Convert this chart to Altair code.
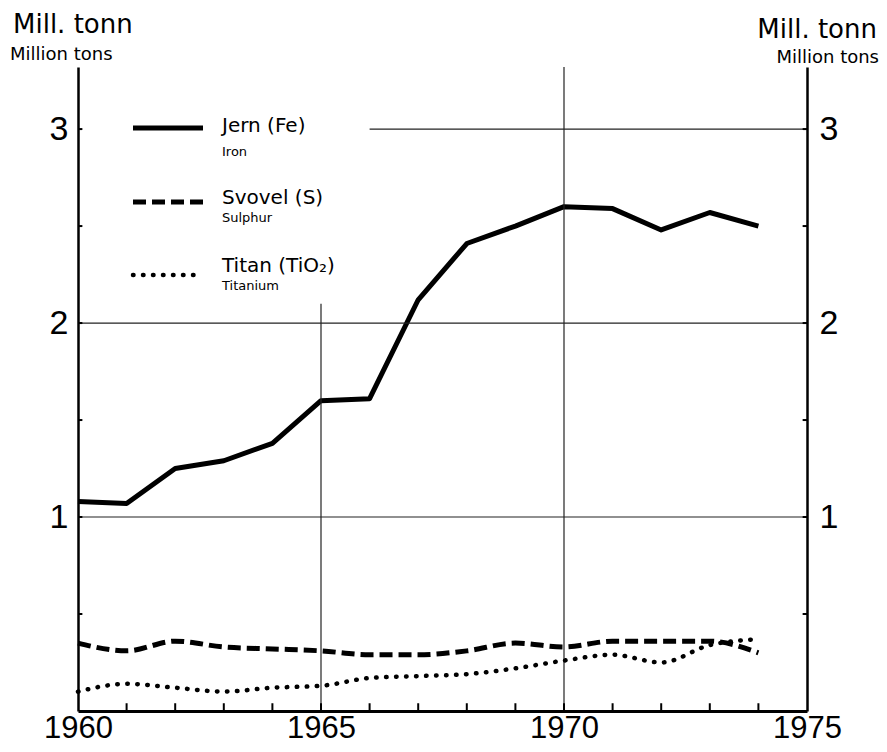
import altair as alt
import pandas as pd

# ---- data ----
years = list(range(1960, 1975))
iron = [1.08, 1.07, 1.25, 1.29, 1.38, 1.60, 1.61, 2.12, 2.41, 2.50, 2.60, 2.59, 2.48, 2.57, 2.50]
sulphur = [0.35, 0.31, 0.36, 0.33, 0.32, 0.31, 0.29, 0.29, 0.31, 0.35, 0.33, 0.36, 0.36, 0.36, 0.30]
titanium = [0.10, 0.14, 0.12, 0.10, 0.12, 0.13, 0.17, 0.18, 0.19, 0.22, 0.26, 0.29, 0.25, 0.34, 0.37]

x_ticks = [1960, 1965, 1970, 1975]
y_ticks = [1, 2, 3]
minor_years = list(range(1961, 1975))
minor_y = [0.5, 1.0, 1.5, 2.0, 2.5, 3.0]

hgrid_y = [1, 2, 3]
hgrid_x0 = [1960, 1960, 1966]
hgrid_x1 = [1975, 1975, 1975]
vgrid_x = [1965, 1970]
vgrid_y0 = [0, 0]
vgrid_y1 = [2.1, 3.32]

X_DOM = [1960, 1975]
Y_DOM = [0, 3.32]
W, H = 729, 644
FONT = "DejaVu Sans"
NUMFONT = "Liberation Sans"

df = pd.DataFrame({"year": years, "iron": iron, "sulphur": sulphur, "titanium": titanium})
hgrid = pd.DataFrame({"y": hgrid_y, "x0": hgrid_x0, "x1": hgrid_x1})
vgrid = pd.DataFrame({"x": vgrid_x, "y0": vgrid_y0, "y1": vgrid_y1})
xt = pd.DataFrame({"x": minor_years, "y0": [0] * len(minor_years), "y1": [0.04] * len(minor_years)})
ytl = pd.DataFrame({"y": minor_y, "x0": [1960] * len(minor_y), "x1": [1960.09] * len(minor_y)})
ytr = pd.DataFrame({"y": minor_y, "x0": [1974.91] * len(minor_y), "x1": [1975] * len(minor_y)})
one = pd.DataFrame({"a": [0]})

xscale = alt.Scale(domain=X_DOM, nice=False, zero=False)
yscale = alt.Scale(domain=Y_DOM, nice=False, zero=False)
xaxis = alt.Axis(values=x_ticks, format="d", labelFontSize=31, labelFont=NUMFONT,
                 ticks=False, grid=False, domainWidth=3, domainColor="black",
                 labelColor="black", labelPadding=2, labelFlush=False,
                 labelOverlap=False, title=None)
yaxis_left = alt.Axis(orient="left", values=y_ticks, labelFontSize=34, labelFont=NUMFONT,
                      ticks=False, grid=False, domainWidth=2.5, domainColor="black",
                      labelColor="black", labelPadding=10, title=None)
yaxis_right = alt.Axis(orient="right", values=y_ticks, labelFontSize=34, labelFont=NUMFONT,
                       ticks=False, grid=False, domainWidth=2.5, domainColor="black",
                       labelColor="black", labelPadding=12, title=None)


def X(field):
    return alt.X(field, type="quantitative", scale=xscale, axis=xaxis)


def Y(field, axis=None):
    return alt.Y(field, type="quantitative", scale=yscale, axis=axis)


grid_h = alt.Chart(hgrid).mark_rule(color="#222", strokeWidth=1.2).encode(
    x=X("x0"), x2="x1", y=Y("y"))
grid_v = alt.Chart(vgrid).mark_rule(color="#222", strokeWidth=1.2).encode(
    x=X("x"), y=Y("y0"), y2="y1")
ticks_x = alt.Chart(xt).mark_rule(color="black", strokeWidth=2).encode(
    x=X("x"), y=Y("y0"), y2="y1")
ticks_yl = alt.Chart(ytl).mark_rule(color="black", strokeWidth=2).encode(
    x=X("x0"), x2="x1", y=Y("y"))
ticks_yr = alt.Chart(ytr).mark_rule(color="black", strokeWidth=2).encode(
    x=X("x0"), x2="x1", y=Y("y"))

line_fe = alt.Chart(df).mark_line(color="black", strokeWidth=5, strokeJoin="round").encode(
    x=X("year"), y=Y("iron", yaxis_left))
line_s = alt.Chart(df).mark_line(color="black", strokeWidth=5, strokeDash=[13, 6],
                                 interpolate="monotone").encode(
    x=X("year"), y=Y("sulphur", yaxis_right))
line_ti = alt.Chart(df).mark_line(color="black", strokeWidth=4.5, strokeDash=[0.5, 9.5],
                                  strokeCap="round", interpolate="monotone").encode(
    x=X("year"), y=Y("titanium"))


def txt(s, x, y, size, align="left", font=FONT):
    return alt.Chart(one).mark_text(text=s, align=align, baseline="alphabetic",
                                    fontSize=size, font=font, color="black").encode(
        x=alt.value(x), y=alt.value(y))


def leg_rule(y, **kw):
    return alt.Chart(one).mark_rule(color="black", **kw).encode(
        x=alt.value(55), x2=alt.value(125), y=alt.value(y))


legend = [
    leg_rule(61, strokeWidth=5),
    leg_rule(135, strokeWidth=5, strokeDash=[13, 6]),
    leg_rule(208, strokeWidth=4.5, strokeDash=[0.5, 9.5], strokeCap="round"),
    txt("Jern (Fe)", 144, 65, 20),
    txt("Iron", 144, 89, 13),
    txt("Svovel (S)", 144, 137, 20),
    txt("Sulphur", 144, 155, 13),
    txt("Titan (TiO₂)", 144, 205, 20),
    txt("Titanium", 144, 223, 13),
]

titles = [
    txt("Mill. tonn", -65, -34, 26),
    txt("Million tons", -68, -7, 18),
    txt("Mill. tonn", 799, -29, 26, align="right"),
    txt("Million tons", 801, -4, 18, align="right"),
]

chart = alt.layer(
    line_fe, line_s, grid_h, grid_v, ticks_x, ticks_yl, ticks_yr, line_ti,
    *legend, *titles
).resolve_axis(y="independent").properties(
    width=W, height=H,
    background="white",
    autosize=alt.AutoSizeParams(type="none"),
    padding={"left": 70, "top": 59, "right": 72, "bottom": 33},
).configure_view(stroke=None)

chart.save("out.html", embed_options={"renderer": "svg", "actions": False})
